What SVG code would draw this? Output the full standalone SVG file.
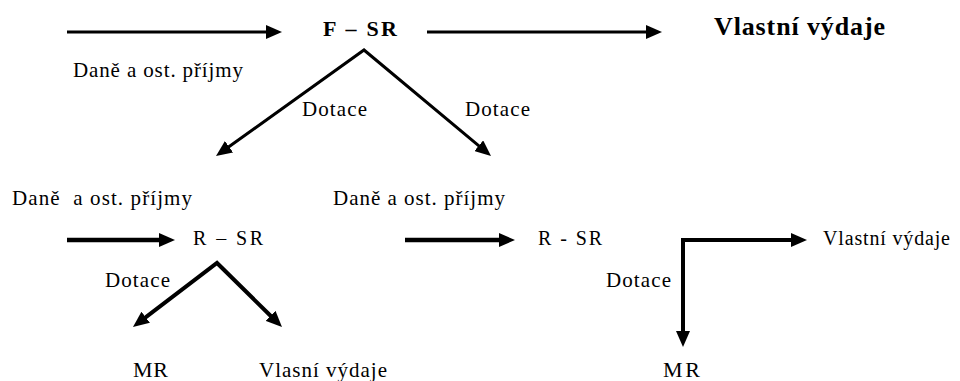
<svg xmlns="http://www.w3.org/2000/svg" width="960" height="381" viewBox="0 0 960 381">
<defs>
<style>
text{font-family:'Liberation Serif','Times New Roman',Tinos,'DejaVu Serif',serif;fill:#000}
.b{font-weight:bold}
.c{fill:none;stroke:#000;stroke-linejoin:miter}
.a{marker-end:url(#ah)}
</style>
<marker id="ah" viewBox="0 0 16 14" refX="1" refY="7" markerWidth="16" markerHeight="14" markerUnits="userSpaceOnUse" orient="auto-start-reverse">
<path d="M0,0 L16,7 L0,14 z" fill="#000"/>
</marker>
</defs>
<rect width="960" height="381" fill="#fff"/>
<g id="connectors">
<line class="c a" x1="67" y1="32" x2="267" y2="32" stroke-width="3"/>
<line class="c a" x1="427" y1="32" x2="647" y2="32" stroke-width="3"/>
<path class="c" d="M228.2,147.3 L364,50 L479.5,146.4" stroke-width="3" marker-start="url(#ah)" marker-end="url(#ah)"/>
<line class="c a" x1="67" y1="240" x2="160" y2="240" stroke-width="4.5"/>
<line class="c a" x1="405" y1="240" x2="500" y2="240" stroke-width="4.5"/>
<path class="c" d="M144.9,317.9 L217,263 L271.3,316.5" stroke-width="4" marker-start="url(#ah)" marker-end="url(#ah)"/>
<line class="c a" x1="681" y1="240" x2="792" y2="240" stroke-width="4"/>
<line class="c a" x1="683" y1="238" x2="683" y2="332" stroke-width="4"/>
</g>
<g id="node-fsr"><text class="b" x="323" y="36" font-size="22" textLength="74" lengthAdjust="spacing">F – SR</text></g>
<g id="node-vydaje-top"><text class="b" x="714" y="35" font-size="26" textLength="171" lengthAdjust="spacing">Vlastní výdaje</text></g>
<g id="label-dane-1"><text x="73" y="77" font-size="21" textLength="170" lengthAdjust="spacing">Daně a ost. příjmy</text></g>
<g id="label-dotace-1"><text x="302" y="116" font-size="21" textLength="65" lengthAdjust="spacing">Dotace</text></g>
<g id="label-dotace-2"><text x="465" y="116" font-size="21" textLength="65" lengthAdjust="spacing">Dotace</text></g>
<g id="label-dane-2"><text x="12" y="205" font-size="21" textLength="180" lengthAdjust="spacing" xml:space="preserve">Daně  a ost. příjmy</text></g>
<g id="label-dane-3"><text x="333" y="205" font-size="21" textLength="172" lengthAdjust="spacing">Daně a ost. příjmy</text></g>
<g id="node-rsr-1"><text x="193" y="245" font-size="20" textLength="70" lengthAdjust="spacing">R – SR</text></g>
<g id="node-rsr-2"><text x="538" y="245" font-size="20" textLength="64" lengthAdjust="spacing">R - SR</text></g>
<g id="node-vydaje-r"><text x="823" y="245" font-size="20" textLength="127" lengthAdjust="spacing">Vlastní výdaje</text></g>
<g id="label-dotace-3"><text x="105" y="287" font-size="21" textLength="65" lengthAdjust="spacing">Dotace</text></g>
<g id="label-dotace-4"><text x="606" y="287" font-size="21" textLength="65" lengthAdjust="spacing">Dotace</text></g>
<g id="node-mr-1"><text x="133" y="377" font-size="22" textLength="35" lengthAdjust="spacing">MR</text></g>
<g id="node-vydaje-m"><text x="259" y="377" font-size="21" textLength="128" lengthAdjust="spacing">Vlasní výdaje</text></g>
<g id="node-mr-2"><text x="663" y="377" font-size="22" textLength="37" lengthAdjust="spacing">MR</text></g>
</svg>
